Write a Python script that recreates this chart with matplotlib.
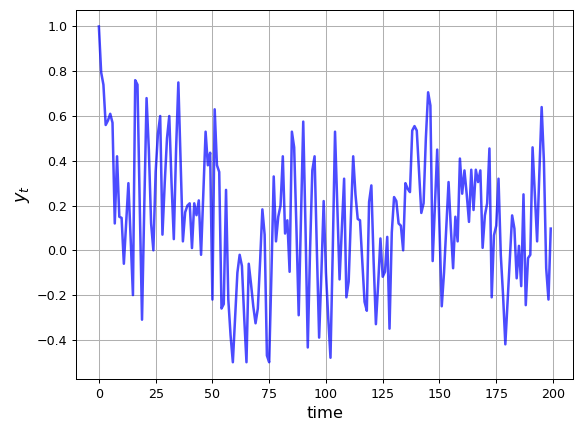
import matplotlib
matplotlib.use("Agg")
import matplotlib.pyplot as plt
import numpy as np

# values, t = 0..199
y = [1.0, 0.795, 0.74, 0.56, 0.58, 0.61, 0.57, 0.12, 0.42, 0.15,
     0.145, -0.06, 0.12, 0.30, 0.05, -0.20, 0.76, 0.74, 0.2, -0.31,
     0.2, 0.68, 0.45, 0.12, 0.0, 0.35, 0.52, 0.60, 0.07, 0.3,
     0.5, 0.60, 0.3, 0.05, 0.45, 0.75, 0.4, 0.04, 0.17, 0.20,
     0.21, 0.01, 0.21, 0.157, 0.223, -0.02, 0.25, 0.53, 0.38, 0.436,
     -0.22, 0.63, 0.38, 0.35, -0.26, -0.24, 0.27, -0.22, -0.38, -0.50,
     -0.3, -0.10, -0.02, -0.07, -0.3, -0.50, -0.06, -0.15, -0.25, -0.326,
     -0.26, -0.05, 0.183, 0.07, -0.47, -0.50, -0.1, 0.33, 0.04, 0.15,
     0.20, 0.42, 0.075, 0.134, -0.096, 0.53, 0.46, 0.1, -0.29, 0.15,
     0.575, 0.1, -0.434, 0.0, 0.357, 0.42, 0.0, -0.39, -0.1, 0.22,
     -0.1, -0.3, -0.48, 0.0, 0.53, 0.2, -0.13, 0.1, 0.32, -0.21,
     -0.14, 0.15, 0.42, 0.25, 0.14, 0.134, -0.05, -0.23, -0.27, 0.216,
     0.29, -0.05, -0.33, -0.15, 0.053, -0.118, -0.096, 0.06, -0.35, 0.08,
     0.238, 0.22, 0.12, 0.11, 0.0, 0.30, 0.275, 0.26, 0.535, 0.555,
     0.535, 0.35, 0.167, 0.21, 0.5, 0.706, 0.647, -0.048, 0.2, 0.45,
     0.1, -0.25, -0.1, 0.1, 0.305, 0.1, -0.08, 0.15, 0.04, 0.41,
     0.253, 0.357, 0.25, 0.127, 0.36, 0.18, 0.36, 0.305, 0.357, 0.011,
     0.156, 0.21, 0.455, -0.21, 0.067, 0.11, 0.32, -0.02, -0.2, -0.42,
     -0.23, -0.04, 0.156, 0.097, -0.125, 0.02, -0.16, 0.25, -0.245, -0.035,
     -0.02, 0.46, 0.25, 0.04, 0.35, 0.64, 0.395, -0.08, -0.22, 0.097]
t = np.arange(len(y))

fig, ax = plt.subplots(figsize=(581/90.8, 435/90.8), dpi=90.8)
ax.plot(t, y, 'b-', lw=2, alpha=0.7)
ax.set_xlabel('time', fontsize=13)
ax.set_ylabel('$y_t$', fontsize=14)
ax.grid()
fig.subplots_adjust(left=0.1313, right=0.9868, top=0.9777, bottom=0.1287)
fig.savefig('out.png')
